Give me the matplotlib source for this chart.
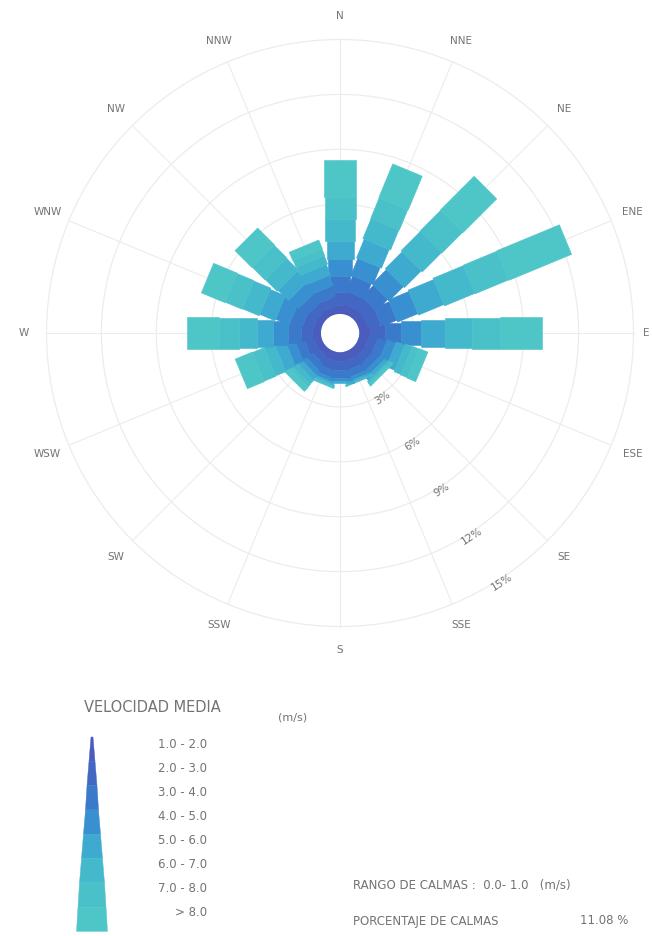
import numpy as np
import matplotlib
matplotlib.use('Agg')
import matplotlib.pyplot as plt
from matplotlib.patches import Polygon, Circle

directions = ['N', 'NNE', 'NE', 'ENE', 'E', 'ESE', 'SE', 'SSE',
              'S', 'SSW', 'SW', 'WSW', 'W', 'WNW', 'NW', 'NNW']
speedClasses = ['1.0 - 2.0', '2.0 - 3.0', '3.0 - 4.0', '4.0 - 5.0',
                '5.0 - 6.0', '6.0 - 7.0', '7.0 - 8.0', '> 8.0']

# frequency (%) for each direction, one value per speed class (1-2 ... >8 m/s)
freqN   = [0.5, 0.7, 0.9, 0.9, 1.0, 1.2, 1.2, 2.0]
freqNNE = [0.5, 0.7, 0.9, 1.0, 1.1, 1.2, 1.2, 2.0]
freqNE  = [0.5, 0.7, 0.9, 1.1, 1.3, 1.5, 1.6, 2.6]
freqENE = [0.5, 0.7, 0.9, 1.2, 1.5, 1.8, 2.0, 3.7]
freqE   = [0.6, 0.8, 0.9, 1.1, 1.3, 1.5, 1.5, 2.3]
freqESE = [0.5, 0.5, 0.5, 0.5, 0.5, 0.4, 0.4, 0.5]
freqSE  = [0.5, 0.5, 0.4, 0.3, 0.2, 0.1, 0.1, 0.1]
freqSSE = [0.5, 0.5, 0.4, 0.2, 0.1, 0.1, 0.0, 0.0]
freqS   = [0.5, 0.5, 0.4, 0.2, 0.1, 0.0, 0.0, 0.0]
freqSSW = [0.5, 0.5, 0.4, 0.2, 0.1, 0.1, 0.1, 0.0]
freqSW  = [0.4, 0.4, 0.4, 0.3, 0.3, 0.3, 0.2, 0.3]
freqWSW = [0.4, 0.5, 0.5, 0.5, 0.6, 0.6, 0.7, 1.0]
freqW   = [0.5, 0.6, 0.7, 0.8, 0.9, 1.0, 1.1, 1.7]
freqWNW = [0.4, 0.6, 0.7, 0.8, 0.9, 1.0, 1.0, 1.4]
freqNW  = [0.4, 0.5, 0.6, 0.7, 0.8, 0.9, 1.0, 1.3]
freqNNW = [0.4, 0.5, 0.6, 0.6, 0.6, 0.5, 0.4, 0.5]

ringLevels = [3, 6, 9, 12, 15]
calmRange = '0.0- 1.0'
calmPercent = 11.08

freqTable = [freqN, freqNNE, freqNE, freqENE, freqE, freqESE, freqSE, freqSSE,
             freqS, freqSSW, freqSW, freqWSW, freqW, freqWNW, freqNW, freqNNW]

classColors = ['#4a5cbc', '#4268c4', '#3b79cb', '#3990d0',
               '#3eaad0', '#45b9cc', '#4ac1c9', '#4ec6c8']
textColor = '#737373'
gridColor = '#ececec'

figW, figH = 652, 936
pxPerPct = 18.3          # pixels for 1 % on the rose
centerPx = (340, 333)    # rose centre, pixels from top-left
hole = 19 / pxPerPct     # radius of the empty centre, in % units
roseBottomPx = 660
barWidthsPx = [12, 16, 20, 24, 27, 30, 31, 32]

fig = plt.figure(figsize=(figW / 100, figH / 100), dpi=100)

# rose axes: 1 data unit == 1 %, centre at (0, 0)
ax = fig.add_axes([0, (figH - roseBottomPx) / figH, 1, roseBottomPx / figH])
ax.set_xlim(-centerPx[0] / pxPerPct, (figW - centerPx[0]) / pxPerPct)
ax.set_ylim(-(roseBottomPx - centerPx[1]) / pxPerPct, centerPx[1] / pxPerPct)
ax.axis('off')

outer = hole + ringLevels[-1]
for i, name in enumerate(directions):
    bearing = np.deg2rad(i * 22.5)
    u = np.array([np.sin(bearing), np.cos(bearing)])
    v = np.array([np.cos(bearing), -np.sin(bearing)])
    ax.plot([hole * u[0], outer * u[0]], [hole * u[1], outer * u[1]],
            color=gridColor, lw=0.8, zorder=1)
    lr, ha = 17.3, 'center'
    if name == 'E':
        lr, ha = 16.9, 'right'   # keep it inside the right edge
    ax.text(lr * u[0], lr * u[1], name, ha=ha, va='center',
            fontsize=7.5, color=textColor, clip_on=False)

    cum = np.concatenate([[0], np.cumsum(freqTable[i])])
    for k in range(len(speedClasses)):
        if freqTable[i][k] <= 0:
            continue
        r0, r1 = hole + cum[k], hole + cum[k + 1]
        h = barWidthsPx[k] / 2 / pxPerPct
        pts = [r0 * u - h * v, r1 * u - h * v, r1 * u + h * v, r0 * u + h * v]
        ax.add_patch(Polygon(pts, closed=True, fc=classColors[k], ec=classColors[k],
                             lw=0.4, zorder=2))

ax.add_patch(Circle((0, 0), hole, fc='white', ec='none', zorder=4))
for level in ringLevels:
    ax.add_patch(Circle((0, 0), hole + level, fill=False, ec=gridColor,
                        lw=0.9, zorder=1))
    labelBearing = np.deg2rad(147)
    lr = hole + level + 0.2
    ax.text(lr * np.sin(labelBearing), lr * np.cos(labelBearing), f'{level}%',
            ha='center', va='center', fontsize=7.5, color=textColor, rotation=33,
            zorder=5)

# overlay axes in pixel units for the legend and notes
lax = fig.add_axes([0, 0, 1, 1])
lax.set_xlim(0, figW)
lax.set_ylim(figH, 0)
lax.axis('off')

lax.text(152, 707, 'VELOCIDAD MEDIA', ha='center', va='center', fontsize=10.5, color=textColor)
lax.text(293, 717, '(m/s)', ha='center', va='center', fontsize=8, color=textColor)

spikeEdges = [2, 6, 10, 13, 17, 21, 25, 28, 31]
segH = 24.3
for k, label in enumerate(speedClasses):
    y0 = 737 + k * segH
    y1 = y0 + segH
    w0, w1 = spikeEdges[k] / 2, spikeEdges[k + 1] / 2
    lax.add_patch(Polygon([(92 - w0, y0), (92 + w0, y0), (92 + w1, y1), (92 - w1, y1)],
                          closed=True, fc=classColors[k], ec=classColors[k], lw=0.3))
    lax.text(207, 745 + k * 24.0, label, ha='right', va='center', fontsize=8.5, color=textColor)

lax.text(353, 885, f'RANGO DE CALMAS :  {calmRange}   (m/s)', ha='left', va='center',
         fontsize=8.5, color=textColor)
lax.text(353, 921, 'PORCENTAJE DE CALMAS', ha='left', va='center', fontsize=8.5, color=textColor)
lax.text(628, 921, f'{calmPercent:.2f} %', ha='right', va='center', fontsize=8.5, color=textColor)

fig.savefig('out.png', dpi=100)
